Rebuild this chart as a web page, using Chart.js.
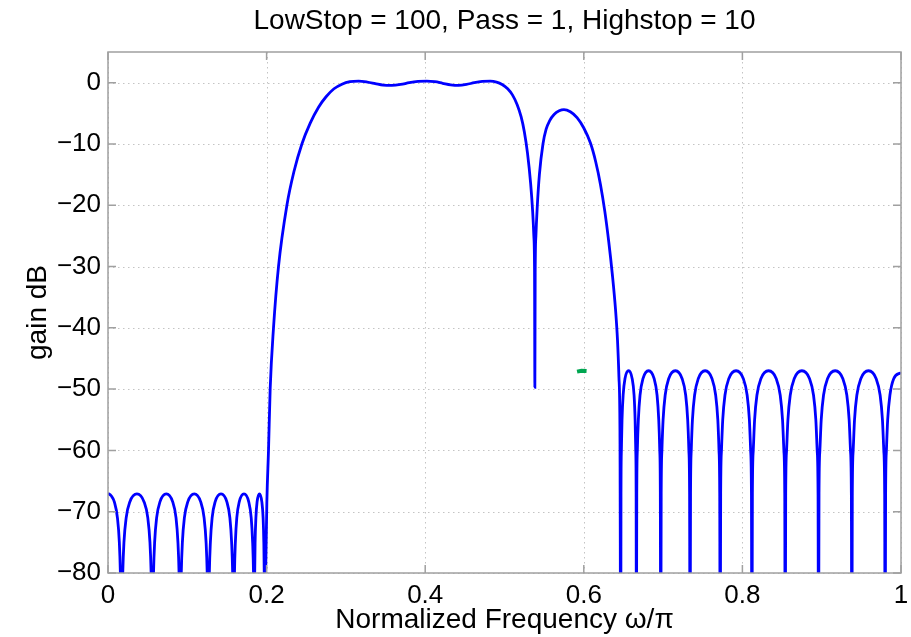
<!DOCTYPE html>
<html>
<head>
<meta charset="utf-8">
<script src="https://cdn.jsdelivr.net/npm/chart.js@4.4.1/dist/chart.umd.min.js"></script>
<style>
  html, body { margin: 0; padding: 0; background: #fff; }
  canvas { display: block; }
</style>
</head>
<body>
<canvas id="chart" width="911" height="637"></canvas>
<script>
// lower stopband (0 .. 0.2), values in dB
var lowStopFreq = [0, 0.0040, 0.0080, 0.0119, 0.0143, 0.0156, 0.0165, 0.0170,
  0.0176, 0.0186, 0.0201, 0.0229, 0.0275, 0.0365, 0.0455, 0.0502, 0.0529, 0.0544, 0.0554, 0.0560,
  0.0565, 0.0574, 0.0588, 0.0613, 0.0655, 0.0735, 0.0816, 0.0858, 0.0882, 0.0896, 0.0905, 0.0910,
  0.0915, 0.0924, 0.0938, 0.0963, 0.1006, 0.1088, 0.1169, 0.1212, 0.1237, 0.1251, 0.1260, 0.1265,
  0.1270, 0.1278, 0.1291, 0.1313, 0.1351, 0.1425, 0.1499, 0.1537, 0.1559, 0.1572, 0.1580, 0.1585,
  0.1589, 0.1595, 0.1606, 0.1624, 0.1655, 0.1715, 0.1775, 0.1806, 0.1824, 0.1835, 0.1841, 0.1845,
  0.1847, 0.1850, 0.1855, 0.1865, 0.1880, 0.1910, 0.1940, 0.1956, 0.1965, 0.1970, 0.1973, 0.1975];
var lowStopDb = [-67.0, -67.4, -68.4, -71, -75, -80, -87, -100,
  -87, -80, -75, -71, -68.4, -67.1, -68.4, -71, -75, -80, -87, -100,
  -87, -80, -75, -71, -68.4, -67.1, -68.4, -71, -75, -80, -87, -100,
  -87, -80, -75, -71, -68.4, -67.1, -68.4, -71, -75, -80, -87, -100,
  -87, -80, -75, -71, -68.4, -67.1, -68.4, -71, -75, -80, -87, -100,
  -87, -80, -75, -71, -68.4, -67.1, -68.4, -71, -75, -80, -87, -100,
  -87, -80, -75, -71, -68.4, -67.1, -68.4, -71, -75, -80, -87, -100];

// transition, passband, notch and second lobe
var passFreq = [0.1988, 0.2004, 0.2024, 0.2045, 0.2087, 0.2150, 0.2256, 0.2345, 0.2445, 0.2550,
  0.2655, 0.2750, 0.2850, 0.2950, 0.3050, 0.3160, 0.3270, 0.3370, 0.3470, 0.3580,
  0.3690, 0.3800, 0.3910, 0.4020, 0.4120, 0.4220, 0.4320, 0.4420, 0.4520, 0.4620,
  0.4720, 0.4820, 0.4900, 0.4970, 0.5040, 0.5100, 0.5160, 0.5210, 0.5250, 0.5290,
  0.5330, 0.5355, 0.5370, 0.5379, 0.5383, 0.5387, 0.5396, 0.5412, 0.5440, 0.5485,
  0.5525, 0.5570, 0.5625, 0.5690, 0.5750, 0.5830, 0.5915, 0.6000, 0.6085, 0.6150,
  0.6210, 0.6265, 0.6315, 0.6360, 0.6400, 0.6425, 0.6443, 0.6456, 0.6466];
var passDb = [-80, -68, -60, -50, -40, -30, -20, -14.5, -10, -6.6,
  -4.0, -2.3, -1.0, -0.25, 0.15, 0.25, 0.1, -0.15, -0.4, -0.45,
  -0.3, 0.0, 0.2, 0.25, 0.15, -0.1, -0.35, -0.45, -0.3, 0.0,
  0.2, 0.25, 0.1, -0.3, -1.0, -2.0, -3.6, -5.6, -8.0, -11.5,
  -16.5, -21, -25, -31, -49.7, -31, -25, -20.5, -15, -10,
  -7.6, -6.2, -5.2, -4.6, -4.4, -4.75, -5.7, -7.4, -9.9, -12.9,
  -16.6, -21.0, -26.0, -31.3, -37.0, -42.0, -48.0, -57.0, -100];

// upper stopband (0.65 .. 1)
var highStopFreq = [0.6469, 0.6474, 0.6482, 0.6496, 0.6519, 0.6565, 0.6610, 0.6634, 0.6647, 0.6655, 0.6660, 0.6663,
  0.6668, 0.6675, 0.6688, 0.6709, 0.6746, 0.6817, 0.6887, 0.6924, 0.6945, 0.6958, 0.6965, 0.6970,
  0.6976, 0.6985, 0.7000, 0.7026, 0.7070, 0.7155, 0.7240, 0.7285, 0.7310, 0.7325, 0.7334, 0.7340,
  0.7346, 0.7355, 0.7370, 0.7397, 0.7443, 0.7530, 0.7617, 0.7663, 0.7690, 0.7705, 0.7714, 0.7720,
  0.7726, 0.7736, 0.7752, 0.7780, 0.7828, 0.7920, 0.8012, 0.8060, 0.8088, 0.8104, 0.8114, 0.8120,
  0.8126, 0.8137, 0.8154, 0.8183, 0.8233, 0.8330, 0.8427, 0.8477, 0.8506, 0.8523, 0.8534, 0.8540,
  0.8546, 0.8557, 0.8574, 0.8603, 0.8653, 0.8750, 0.8847, 0.8897, 0.8926, 0.8943, 0.8954, 0.8960,
  0.8966, 0.8977, 0.8994, 0.9023, 0.9073, 0.9170, 0.9267, 0.9317, 0.9346, 0.9363, 0.9374, 0.9380,
  0.9386, 0.9397, 0.9414, 0.9443, 0.9493, 0.9590, 0.9687, 0.9737, 0.9766, 0.9783, 0.9794, 0.9800,
  0.9806, 0.9816, 0.9832, 0.9860, 0.9908, 1.0];
var highStopDb = [-67, -60, -55, -51, -48.3, -47.0, -48.3, -51, -55, -60, -67, -100,
  -67, -60, -55, -51, -48.3, -47.0, -48.3, -51, -55, -60, -67, -100,
  -67, -60, -55, -51, -48.3, -47.0, -48.3, -51, -55, -60, -67, -100,
  -67, -60, -55, -51, -48.3, -47.0, -48.3, -51, -55, -60, -67, -100,
  -67, -60, -55, -51, -48.3, -47.0, -48.3, -51, -55, -60, -67, -100,
  -67, -60, -55, -51, -48.3, -47.0, -48.3, -51, -55, -60, -67, -100,
  -67, -60, -55, -51, -48.3, -47.0, -48.3, -51, -55, -60, -67, -100,
  -67, -60, -55, -51, -48.3, -47.0, -48.3, -51, -55, -60, -67, -100,
  -67, -60, -55, -51, -48.3, -47.0, -48.3, -51, -55, -60, -67, -100,
  -67, -60, -55, -51, -48.3, -47.3];

// small green mark
var markFreq = [0.5915, 0.5970, 0.6035];
var markDb = [-47.15, -47.0, -47.05];

var xTicks = [0, 0.2, 0.4, 0.6, 0.8, 1];
var xTickLabels = ['0', '0.2', '0.4', '0.6', '0.8', '1'];
var yTicks = [-80, -70, -60, -50, -40, -30, -20, -10, 0];
var yTickLabels = ['\u221280', '\u221270', '\u221260', '\u221250', '\u221240', '\u221230', '\u221220', '\u221210', '0'];

var titleText = 'LowStop = 100, Pass = 1, Highstop = 10';
var xTitle = 'Normalized Frequency \u03c9/\u03c0';
var yTitle = 'gain dB';

function toPoints(fs, ds) {
  return fs.map(function(f, i) { return {x: f, y: ds[i]}; });
}

var responsePts = toPoints(lowStopFreq, lowStopDb)
  .concat(toPoints(passFreq, passDb))
  .concat(toPoints(highStopFreq, highStopDb));

var FONT = '"Liberation Sans", Arial, Helvetica, sans-serif';

// MATLAB-style dotted grid, box, inward ticks and title centred on the axes
var framePlugin = {
  id: 'frame',
  beforeDatasetsDraw: function(chart) {
    var ctx = chart.ctx, a = chart.chartArea, x = chart.scales.x, y = chart.scales.y;
    ctx.save();
    ctx.strokeStyle = '#c4c4c4';
    ctx.lineWidth = 1;
    ctx.setLineDash([1.5, 3.5]);
    ctx.beginPath();
    xTicks.forEach(function(v) {
      var px = Math.round(x.getPixelForValue(v)) + 0.5;
      ctx.moveTo(px, a.top); ctx.lineTo(px, a.bottom);
    });
    yTicks.forEach(function(v) {
      var py = Math.round(y.getPixelForValue(v)) + 0.5;
      ctx.moveTo(a.left, py); ctx.lineTo(a.right, py);
    });
    ctx.stroke();
    ctx.restore();
  },
  afterDatasetsDraw: function(chart) {
    var ctx = chart.ctx, a = chart.chartArea, x = chart.scales.x, y = chart.scales.y;
    ctx.save();
    ctx.strokeStyle = '#a0a0a0';
    ctx.lineWidth = 1.5;
    ctx.strokeRect(a.left, a.top, a.right - a.left, a.bottom - a.top);
    ctx.beginPath();
    xTicks.forEach(function(v) {
      var px = x.getPixelForValue(v);
      ctx.moveTo(px, a.bottom); ctx.lineTo(px, a.bottom - 8);
      ctx.moveTo(px, a.top); ctx.lineTo(px, a.top + 8);
    });
    yTicks.forEach(function(v) {
      var py = y.getPixelForValue(v);
      ctx.moveTo(a.left, py); ctx.lineTo(a.left + 8, py);
      ctx.moveTo(a.right, py); ctx.lineTo(a.right - 8, py);
    });
    ctx.stroke();

    ctx.fillStyle = '#000';
    ctx.font = '28px ' + FONT;
    ctx.textAlign = 'center';
    ctx.textBaseline = 'middle';
    ctx.fillText(titleText, (a.left + a.right) / 2, 21);
    ctx.restore();
  }
};

new Chart(document.getElementById('chart').getContext('2d'), {
  type: 'line',
  data: {
    datasets: [{
      data: responsePts,
      borderColor: '#0000ff',
      borderWidth: 2.8,
      pointRadius: 0,
      fill: false,
      cubicInterpolationMode: 'monotone'
    }, {
      data: toPoints(markFreq, markDb),
      borderColor: '#00a651',
      borderWidth: 4,
      pointRadius: 0,
      fill: false
    }]
  },
  options: {
    responsive: false,
    animation: false,
    layout: { padding: { left: 0, right: 10, top: 52, bottom: 0 } },
    plugins: {
      legend: { display: false },
      tooltip: { enabled: false },
      title: { display: false }
    },
    scales: {
      x: {
        type: 'linear',
        min: 0,
        max: 1,
        grid: { display: false, drawTicks: false },
        border: { display: false },
        afterBuildTicks: function(s) { s.ticks = xTicks.map(function(v) { return {value: v}; }); },
        afterFit: function(s) { s.height = 64; s.paddingLeft = 0; s.paddingRight = 0; },
        ticks: {
          color: '#000',
          padding: 7,
          maxRotation: 0,
          font: { family: FONT, size: 26 },
          callback: function(v, i) { return xTickLabels[i]; }
        },
        title: {
          display: true,
          text: xTitle,
          color: '#000',
          font: { family: FONT, size: 28, lineHeight: 1.2 },
          padding: { top: 0, bottom: 0 }
        }
      },
      y: {
        type: 'linear',
        min: -80,
        max: 5,
        grid: { display: false, drawTicks: false },
        border: { display: false },
        afterBuildTicks: function(s) { s.ticks = yTicks.map(function(v) { return {value: v}; }); },
        afterFit: function(s) { s.width = 108; s.paddingTop = 0; s.paddingBottom = 0; },
        ticks: {
          color: '#000',
          padding: 7,
          font: { family: FONT, size: 26 },
          callback: function(v, i) { return yTickLabels[i]; }
        },
        title: {
          display: true,
          text: yTitle,
          color: '#000',
          font: { family: FONT, size: 28, lineHeight: 1.2 },
          padding: { top: 21, bottom: 0 }
        }
      }
    }
  },
  plugins: [framePlugin]
});
</script>
</body>
</html>
